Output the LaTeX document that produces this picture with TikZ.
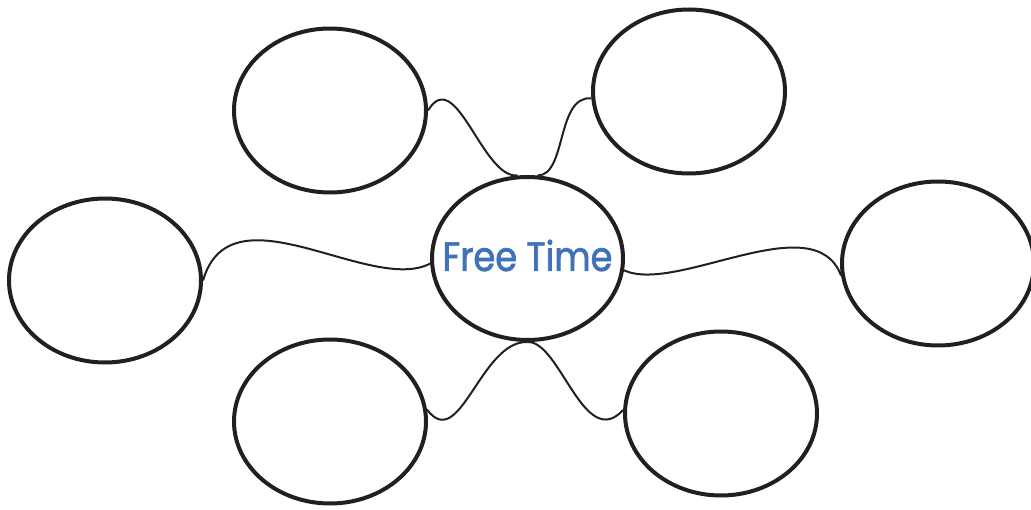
\documentclass[tikz,border=0pt]{standalone}
\usepackage{fontspec}
\newfontfamily\titlefont[FakeStretch=0.86, FakeBold=1.6]{Poppins}
\usepackage{xcolor}
\usetikzlibrary{shapes.geometric}

\definecolor{inkdark}{HTML}{231F20}
\definecolor{titleblue}{HTML}{3F72B7}

\begin{document}
\begin{tikzpicture}[
    x=1pt, y=1pt,
    bubble/.style={ellipse, draw=inkdark, line width=4pt, minimum width=192pt, minimum height=164pt, inner sep=0pt},
    hub/.style={bubble, minimum width=191pt, minimum height=163pt},
    title/.style={text=titleblue, font=\titlefont\fontsize{41}{48}\selectfont},
    link/.style={draw=inkdark, line width=2pt}
]
\useasboundingbox (0,0) rectangle (1031,509);

% Center
\node[hub, label={[title, yshift=3pt]center:Free Time}] (free) at (527.5,250.5) {};

% Bubbles
\node[bubble] (leaf_tl) at (330,398.5) {};
\node[bubble] (leaf_tr) at (689,417.5) {};
\node[bubble] (leaf_l) at (105,228.5) {};
\node[bubble] (leaf_r) at (938,245.5) {};
\node[bubble] (leaf_bl) at (330,87.5) {};
\node[bubble] (leaf_br) at (721,95.5) {};

% Links
\draw[link] (leaf_tl.east) .. controls +(28,46) and +(-35,-3) .. (free.97);
\draw[link] (free.83) .. controls +(29,0) and +(-35,3) .. (leaf_tr.184);
\draw[link] (leaf_l.east) .. controls +(28,96) and +(-60,-31) .. (free.183);
\draw[link] (free.-7) .. controls +(53,-24) and +(-27,71) .. (leaf_r.187);
\draw[link] (leaf_bl.7) .. controls +(33,-44) and +(-47,1.5) .. (free.south);
\draw[link] (free.south) .. controls +(32.5,1.5) and +(-39,-42) .. (leaf_br.178);

\end{tikzpicture}
\end{document}
